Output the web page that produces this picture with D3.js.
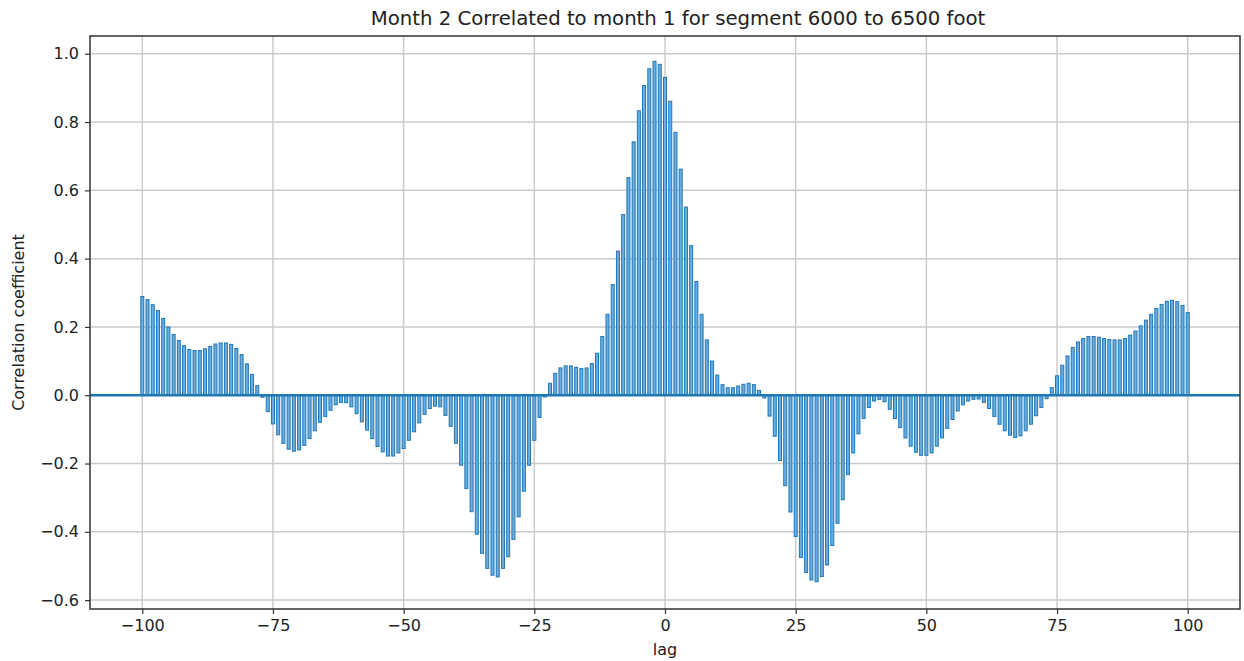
<!DOCTYPE html>
<html>
<head>
<meta charset="utf-8">
<script src="https://cdn.jsdelivr.net/npm/d3@7"></script>
<style>
  html, body { margin: 0; padding: 0; background: #ffffff; }
  svg { display: block; }
  text { font-family: "DejaVu Sans", sans-serif; fill: #222; }
</style>
</head>
<body>
<svg id="chart" width="1244" height="661"></svg>
<script>
// Cross-correlation of month 2 against month 1, lags -100..100
const lagStart = -100;
const lagEnd = 100;
const coefficients = [
  0.289, 0.280, 0.265, 0.248, 0.225, 0.200, 0.178, 0.160, 0.145, 0.134,
  0.131, 0.131, 0.136, 0.143, 0.150, 0.153, 0.153, 0.149, 0.137, 0.119,
  0.092, 0.061, 0.028, -0.006, -0.048, -0.084, -0.116, -0.141, -0.158, -0.164,
  -0.160, -0.147, -0.127, -0.104, -0.079, -0.062, -0.044, -0.028, -0.021, -0.022,
  -0.034, -0.054, -0.078, -0.102, -0.127, -0.150, -0.166, -0.178, -0.178, -0.169,
  -0.156, -0.132, -0.107, -0.081, -0.056, -0.039, -0.032, -0.034, -0.059, -0.091,
  -0.141, -0.205, -0.273, -0.341, -0.407, -0.463, -0.507, -0.527, -0.532, -0.507,
  -0.473, -0.422, -0.356, -0.281, -0.205, -0.132, -0.065, -0.005, 0.035, 0.064,
  0.080, 0.086, 0.086, 0.082, 0.078, 0.080, 0.093, 0.123, 0.172, 0.237,
  0.324, 0.422, 0.529, 0.637, 0.742, 0.833, 0.907, 0.956, 0.978, 0.969,
  0.931, 0.861, 0.770, 0.662, 0.551, 0.438, 0.333, 0.237, 0.162, 0.100,
  0.059, 0.031, 0.022, 0.022, 0.027, 0.032, 0.035, 0.031, 0.014, -0.008,
  -0.061, -0.120, -0.191, -0.265, -0.342, -0.414, -0.475, -0.519, -0.541, -0.546,
  -0.531, -0.497, -0.440, -0.375, -0.306, -0.232, -0.169, -0.113, -0.068, -0.036,
  -0.017, -0.012, -0.019, -0.041, -0.068, -0.095, -0.125, -0.149, -0.167, -0.176,
  -0.176, -0.169, -0.149, -0.125, -0.097, -0.071, -0.046, -0.028, -0.017, -0.012,
  -0.011, -0.021, -0.039, -0.062, -0.085, -0.104, -0.117, -0.124, -0.119, -0.104,
  -0.085, -0.060, -0.036, -0.010, 0.022, 0.057, 0.088, 0.115, 0.140, 0.156,
  0.166, 0.172, 0.172, 0.170, 0.166, 0.163, 0.162, 0.162, 0.166, 0.176,
  0.188, 0.203, 0.220, 0.237, 0.254, 0.266, 0.275, 0.278, 0.274, 0.263,
  0.242
];
const lags = d3.range(lagStart, lagEnd + 1);
const xTicks = [-100, -75, -50, -25, 0, 25, 50, 75, 100];
const yTicks = [-0.6, -0.4, -0.2, 0.0, 0.2, 0.4, 0.6, 0.8, 1.0];

const titleText = "Month 2 Correlated to month 1 for segment 6000 to 6500 foot";
const xLabel = "lag";
const yLabel = "Correlation coefficient";

const data = lags.map((lag, i) => ({ lag, value: coefficients[i] }));

// plot box
const box = { left: 90, right: 1240, top: 36, bottom: 609 };
const svg = d3.select("#chart");

const x = d3.scaleLinear().domain([-110, 110]).range([box.left, box.right]);
const y = d3.scaleLinear().domain([-0.626, 1.052]).range([box.bottom, box.top]);

const blue = "#1f77b4";

// grid
const grid = svg.append("g");
grid.selectAll("line.vx").data(xTicks).join("line")
  .attr("x1", d => x(d)).attr("x2", d => x(d))
  .attr("y1", box.top).attr("y2", box.bottom)
  .attr("stroke", "#cbcbcb").attr("stroke-width", 1.5);
grid.selectAll("line.hy").data(yTicks).join("line")
  .attr("x1", box.left).attr("x2", box.right)
  .attr("y1", d => y(d)).attr("y2", d => y(d))
  .attr("stroke", "#cbcbcb").attr("stroke-width", 1.5);

// vertical bars from zero
const barW = 3;
svg.append("g").selectAll("rect").data(data).join("rect")
  .attr("x", d => x(d.lag) - barW / 2)
  .attr("width", barW)
  .attr("y", d => Math.min(y(d.value), y(0)))
  .attr("height", d => Math.abs(y(d.value) - y(0)))
  .attr("fill", "#6aaee0")
  .attr("stroke", blue)
  .attr("stroke-width", 1);

// zero line across the axes
svg.append("line")
  .attr("x1", box.left).attr("x2", box.right)
  .attr("y1", y(0)).attr("y2", y(0))
  .attr("stroke", blue).attr("stroke-width", 2.5);

// axes
const xAxis = d3.axisBottom(x).tickValues(xTicks).tickFormat(d3.format("d")).tickSize(5).tickPadding(6);
const yAxis = d3.axisLeft(y).tickValues(yTicks).tickFormat(d3.format(".1f")).tickSize(5).tickPadding(6);

const gx = svg.append("g").attr("transform", `translate(0,${box.bottom})`).call(xAxis);
const gy = svg.append("g").attr("transform", `translate(${box.left},0)`).call(yAxis);
[gx, gy].forEach(g => {
  g.select(".domain").remove();
  g.selectAll(".tick line").attr("stroke", "#333").attr("stroke-width", 1.2);
  g.selectAll(".tick text").attr("font-size", 16).attr("fill", "#222")
    .style("font-family", "'DejaVu Sans', sans-serif");
});

// frame
svg.append("rect")
  .attr("x", box.left).attr("y", box.top)
  .attr("width", box.right - box.left).attr("height", box.bottom - box.top)
  .attr("fill", "none").attr("stroke", "#333").attr("stroke-width", 1.5);

// labels
svg.append("text")
  .attr("x", 678).attr("y", 25)
  .attr("text-anchor", "middle").attr("font-size", 19.7)
  .text(titleText);

svg.append("text")
  .attr("x", (box.left + box.right) / 2).attr("y", 655)
  .attr("text-anchor", "middle").attr("font-size", 16)
  .text(xLabel);

svg.append("text")
  .attr("transform", `translate(24,${(box.top + box.bottom) / 2}) rotate(-90)`)
  .attr("text-anchor", "middle").attr("font-size", 16)
  .text(yLabel);
</script>
</body>
</html>
